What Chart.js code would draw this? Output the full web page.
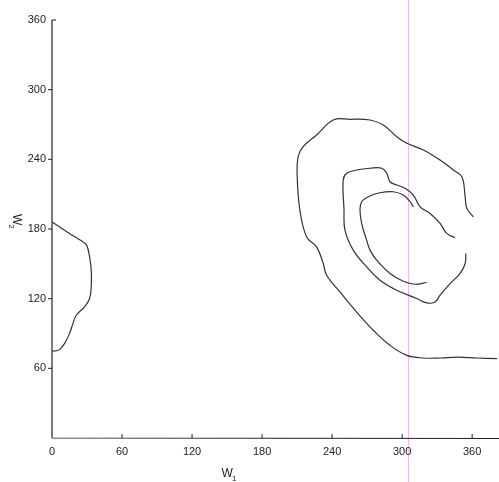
<!DOCTYPE html>
<html>
<head>
<meta charset="utf-8">
<script src="https://cdn.jsdelivr.net/npm/chart.js@4/dist/chart.umd.min.js"></script>
<style>
  html, body { margin: 0; padding: 0; background: #ffffff; }
  #wrap { width: 499px; height: 482px; position: relative; }
</style>
</head>
<body>
<div id="wrap"><canvas id="c" width="499" height="482"></canvas></div>
<script>
// Axis tick values
const xTicks = [0, 60, 120, 180, 240, 300, 360];
const yTicks = [0, 60, 120, 180, 240, 300, 360];

// Contour traces, [w1, w2] pairs
const leftContour = [
  [0, 186], [6.4, 181.9], [15, 176.2], [25.1, 169.8], [29.6, 166.1], [32.2, 156],
  [33.6, 144.5], [33.6, 130.1], [32.2, 120.1], [27.9, 112.9], [20.8, 105.7],
  [17.9, 98.5], [15, 89.9], [10.7, 81.3], [6.4, 76.1], [2.1, 74.9], [0, 75]
];

const outerContour = [
  [361.1, 190.5], [355.4, 197.8], [354, 207.8], [351.2, 225], [343.9, 230.8],
  [332.5, 239.4], [318.2, 248.1], [304, 253.8], [295.4, 259.5], [283.9, 269.6],
  [272.5, 273.9], [255.3, 274.5], [241, 273.9], [226.7, 261], [215.2, 250.9],
  [210.9, 242.3], [210.1, 225], [212.4, 196.3], [218.1, 173.3], [226.7, 164.6],
  [232.4, 150.3], [235.3, 140.2], [246.7, 125.8], [261, 108.5], [275.3, 92.8],
  [289.6, 79.8], [304, 71.2], [318.2, 68.9], [332.5, 68.9], [346.9, 69.7],
  [364, 68.9], [381.2, 68.3]
];

const middleContour = [
  [345.4, 172.4], [338.3, 176.2], [332.5, 184.8], [324, 193.4], [315.4, 199.1],
  [309.6, 209.2], [302.5, 215], [295.4, 217.9], [289.6, 220.7], [286.8, 228],
  [282.5, 232.3], [272.5, 232.3], [261, 230.8], [252.5, 228], [249.5, 222.2],
  [250.2, 196.3], [251, 179], [258.1, 161.8], [269.6, 147.4], [281, 135.9],
  [295.4, 127.3], [312.5, 120.1], [321.1, 116.3], [328.2, 117.2], [332.5, 123],
  [341.1, 133], [349.7, 141.7], [354, 150.3], [354.6, 158.9]
];

const innerContour = [
  [309.6, 199.1], [306.8, 203.5], [301, 209.2], [292.5, 212.1], [281, 211.2],
  [271, 207.8], [265.3, 203.5], [263.9, 196.3], [265.3, 184.8], [269.6, 170.4],
  [272.5, 161.8], [278.2, 153.1], [289.6, 141.7], [301, 135], [311.1, 132.4],
  [321.1, 133.9]
];

// Scan streak position on the W1 axis
const streakW1 = 305;

const INK = '#2e352f';
const AXIS = '#222222';
const FONT = '"Liberation Sans", Arial, sans-serif';

function toPoints(arr) { return arr.map(p => ({ x: p[0], y: p[1] })); }

function contourSet(arr) {
  return {
    data: toPoints(arr),
    showLine: true,
    borderColor: INK,
    borderWidth: 1.2,
    pointRadius: 0,
    tension: 0.4,
    fill: false
  };
}

const paper = {
  id: 'paper',
  beforeDraw(chart) {
    const { ctx, width, height, scales: { x } } = chart;
    ctx.save();
    ctx.fillStyle = '#ffffff';
    ctx.fillRect(0, 0, width, height);
    // faint vertical scanner streak
    const sx = Math.round(x.getPixelForValue(streakW1)) + 0.5;
    ctx.strokeStyle = 'rgba(225, 165, 230, 0.75)';
    ctx.lineWidth = 1;
    ctx.beginPath();
    ctx.moveTo(sx, 0);
    ctx.lineTo(sx, height);
    ctx.stroke();
    ctx.restore();
  }
};

const axesFrame = {
  id: 'axesFrame',
  afterDraw(chart) {
    const { ctx, width, scales: { x, y } } = chart;
    const x0 = x.getPixelForValue(0);
    const y0 = y.getPixelForValue(0);
    const yTop = y.getPixelForValue(360);
    ctx.save();
    ctx.strokeStyle = AXIS;
    ctx.lineWidth = 1.2;
    ctx.beginPath();
    // vertical axis
    ctx.moveTo(x0, y0);
    ctx.lineTo(x0, yTop);
    // horizontal axis
    ctx.moveTo(x0, y0);
    ctx.lineTo(width, y0 + 0.5);
    ctx.stroke();

    ctx.lineWidth = 1;
    ctx.beginPath();
    // W1 ticks point up into the plot
    xTicks.forEach(v => {
      if (v === 0) return;
      const px = x.getPixelForValue(v);
      ctx.moveTo(px, y0);
      ctx.lineTo(px, y0 - 4);
    });
    // W2 ticks point left, top one turns right
    yTicks.forEach(v => {
      if (v === 0) return;
      const py = y.getPixelForValue(v);
      if (v === 360) {
        ctx.moveTo(x0, py);
        ctx.lineTo(x0 + 4, py);
      } else {
        ctx.moveTo(x0, py);
        ctx.lineTo(x0 - 4, py);
      }
    });
    ctx.stroke();

    // axis titles with subscripts
    ctx.fillStyle = AXIS;
    ctx.textBaseline = 'alphabetic';
    ctx.font = '12px ' + FONT;
    const tx = x.getPixelForValue(150);
    ctx.textAlign = 'center';
    ctx.fillText('W', tx, 477);
    ctx.font = '8px ' + FONT;
    ctx.textAlign = 'left';
    ctx.fillText('1', tx + 5, 481);

    ctx.translate(13, y.getPixelForValue(193));
    ctx.rotate(Math.PI / 2);
    ctx.font = '12px ' + FONT;
    ctx.textAlign = 'left';
    ctx.fillText('W', 0, 0);
    const ww = ctx.measureText('W').width;
    ctx.font = '8px ' + FONT;
    ctx.fillText('2', ww - 1, 4);
    ctx.restore();
  }
};

new Chart(document.getElementById('c'), {
  type: 'scatter',
  data: {
    datasets: [
      contourSet(leftContour),
      contourSet(outerContour),
      contourSet(middleContour),
      contourSet(innerContour)
    ]
  },
  options: {
    responsive: false,
    animation: false,
    layout: { padding: { top: 20, right: 0, left: 0, bottom: 0 } },
    plugins: {
      legend: { display: false },
      tooltip: { enabled: false }
    },
    scales: {
      x: {
        type: 'linear',
        min: 0,
        max: 383,
        afterBuildTicks: s => { s.ticks = xTicks.map(v => ({ value: v })); },
        afterFit: s => { s.height = 44; },
        grid: { display: false, drawTicks: false },
        border: { display: false },
        ticks: {
          padding: 7,
          maxRotation: 0,
          color: AXIS,
          font: { family: FONT, size: 11 }
        }
      },
      y: {
        type: 'linear',
        min: 0,
        max: 360,
        afterBuildTicks: s => { s.ticks = yTicks.filter(v => v !== 0).map(v => ({ value: v })); },
        afterFit: s => { s.width = 52; },
        grid: { display: false, drawTicks: false },
        border: { display: false },
        ticks: {
          padding: 6,
          color: AXIS,
          font: { family: FONT, size: 11 }
        }
      }
    }
  },
  plugins: [paper, axesFrame]
});
</script>
</body>
</html>
